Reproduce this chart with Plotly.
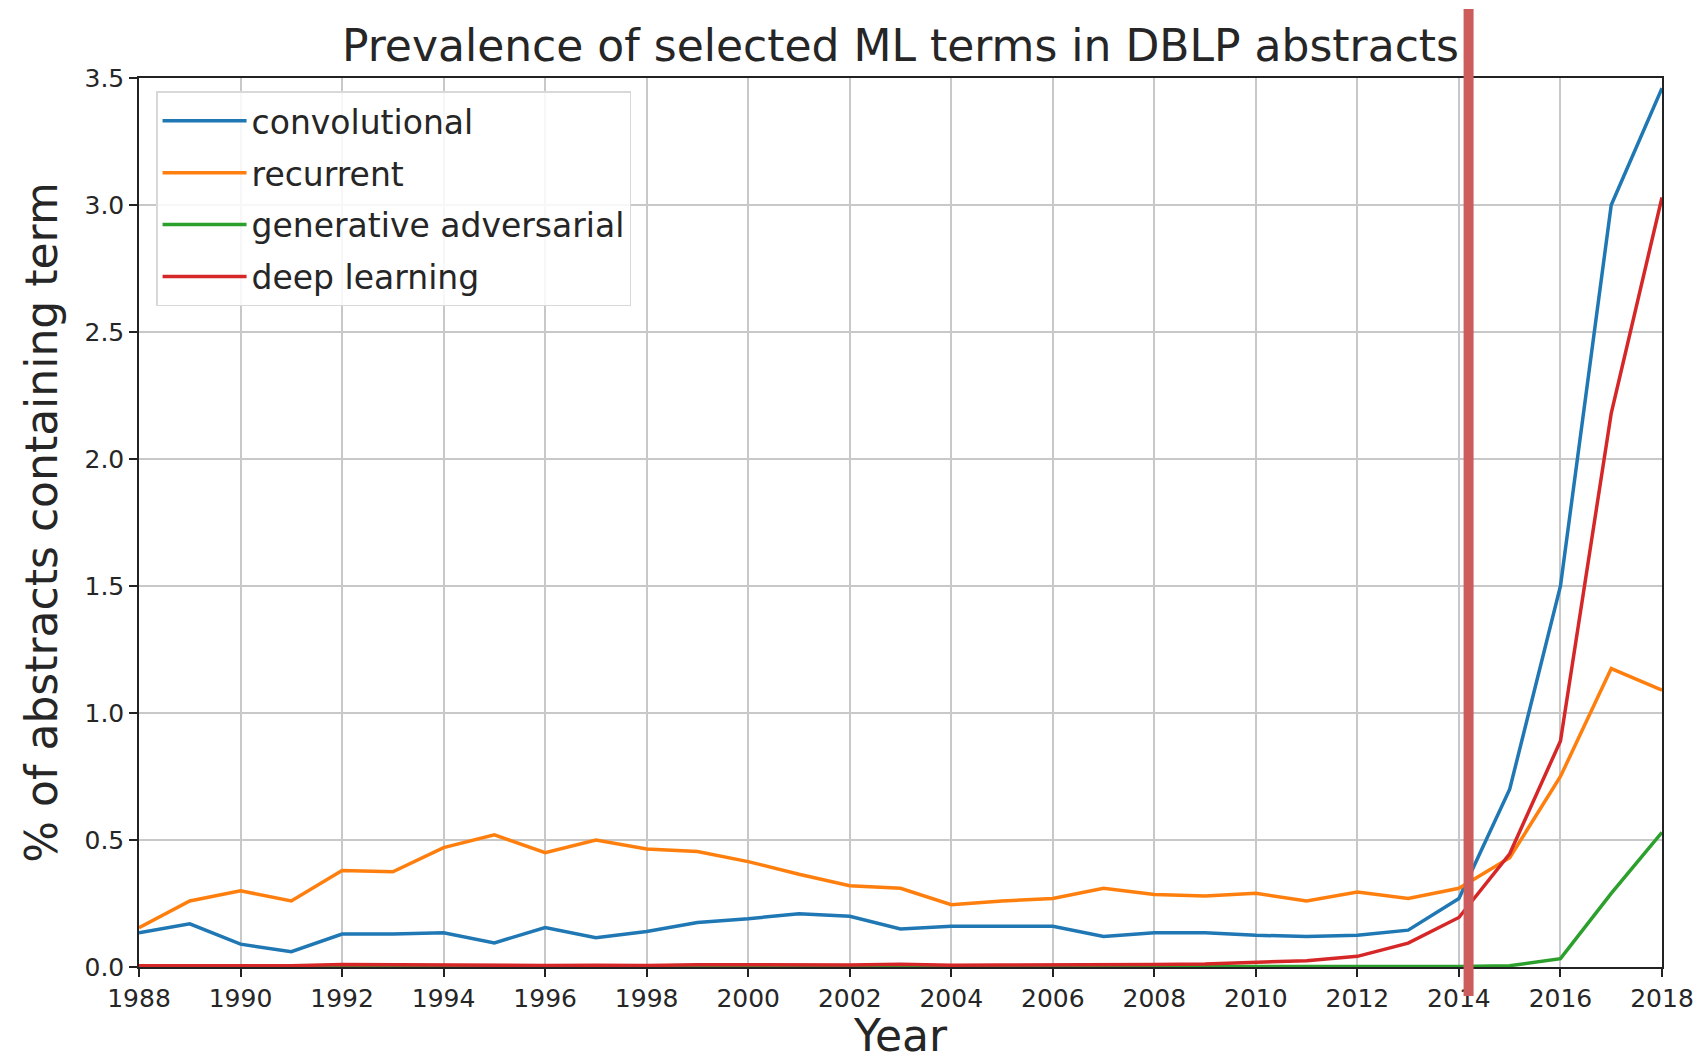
import plotly.graph_objects as go

years = list(range(1988, 2019))

convolutional = [0.135, 0.17, 0.09, 0.06, 0.13, 0.13, 0.135, 0.095, 0.155, 0.115,
                 0.14, 0.175, 0.19, 0.21, 0.20, 0.15, 0.16, 0.16, 0.16, 0.12,
                 0.135, 0.135, 0.125, 0.12, 0.125, 0.145, 0.27, 0.70, 1.50, 3.00, 3.46]
recurrent = [0.155, 0.26, 0.30, 0.26, 0.38, 0.375, 0.47, 0.52, 0.45, 0.50,
             0.465, 0.455, 0.415, 0.365, 0.32, 0.31, 0.245, 0.26, 0.27, 0.31,
             0.285, 0.28, 0.29, 0.26, 0.295, 0.27, 0.31, 0.43, 0.75, 1.175, 1.09]
generative_adversarial = [0.0, 0.0, 0.0, 0.0, 0.0, 0.0, 0.0, 0.0, 0.0, 0.0,
                          0.0, 0.0, 0.0, 0.0, 0.0, 0.0, 0.0, 0.0, 0.0, 0.0,
                          0.0, 0.001, 0.002, 0.002, 0.002, 0.002, 0.002, 0.005, 0.033, 0.29, 0.53]
deep_learning = [0.005, 0.005, 0.006, 0.005, 0.01, 0.009, 0.006, 0.006, 0.006, 0.007,
                 0.006, 0.009, 0.008, 0.007, 0.008, 0.011, 0.007, 0.008, 0.008, 0.008,
                 0.01, 0.012, 0.02, 0.025, 0.042, 0.094, 0.195, 0.446, 0.89, 2.18, 3.03]

series = [
    ("convolutional", convolutional, "#1f77b4"),
    ("recurrent", recurrent, "#ff7f0e"),
    ("generative adversarial", generative_adversarial, "#2ca02c"),
    ("deep learning", deep_learning, "#d62728"),
]

marker_year = 2014.19

FONT = "DejaVu Sans"
TEXT = "#262626"

# page body has an 8px margin, so the figure is a bit smaller than the window
W, H = 1699, 1053

fig = go.Figure()
for name, vals, color in series:
    fig.add_trace(go.Scatter(
        x=years, y=vals, name=name, mode="lines",
        line=dict(color=color, width=3.5),
        legendgroup=name,
    ))

# vertical marker, runs past the plot box like in the original
fig.add_shape(
    type="line", xref="x", yref="paper",
    x0=marker_year, x1=marker_year, y0=-0.0326, y1=1.0776,
    line=dict(color="#cd5c5c", width=10), layer="above",
)

axis_common = dict(
    showline=True, linecolor="#222", linewidth=1.5, mirror=True,
    ticks="outside", ticklen=8, tickwidth=1.5, tickcolor="#222",
    showgrid=True, gridcolor="#c8c8c8", gridwidth=1.5,
    zeroline=False, automargin=False,
    tickfont=dict(family=FONT, size=25, color=TEXT),
)

fig.update_layout(
    width=W, height=H,
    margin=dict(l=131, r=45, t=70, b=94),
    paper_bgcolor="white", plot_bgcolor="white",
    font=dict(family=FONT, color=TEXT),
    title=dict(text="Prevalence of selected ML terms in DBLP abstracts",
               x=0.5, xref="paper", xanchor="center",
               y=1 - 38 / H, yanchor="middle",
               font=dict(family=FONT, size=44, color=TEXT)),
    xaxis=dict(**axis_common, range=[1988, 2018], dtick=2, tick0=1988,
               title=dict(text="Year", standoff=10,
                          font=dict(family=FONT, size=44, color=TEXT))),
    yaxis=dict(**axis_common, range=[0, 3.5], dtick=0.5, tickformat=".1f",
               title=dict(text="% of abstracts containing term", standoff=13,
                          font=dict(family=FONT, size=44, color=TEXT))),
    legend=dict(x=0.0112, y=0.985, xanchor="left", yanchor="top",
                bgcolor="rgba(255,255,255,0.85)", bordercolor="#d8d8d8",
                borderwidth=1.5, tracegroupgap=6, itemwidth=84,
                font=dict(family=FONT, size=33, color=TEXT)),
    showlegend=True,
)

fig.write_html("out.html")
